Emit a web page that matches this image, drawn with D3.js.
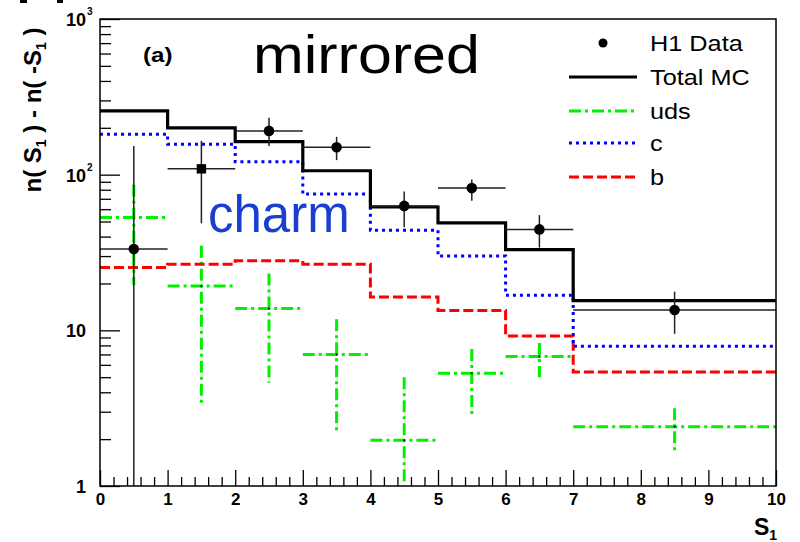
<!DOCTYPE html>
<html>
<head>
<meta charset="utf-8">
<script src="https://cdn.jsdelivr.net/npm/d3@7"></script>
<style>
  html, body { margin: 0; padding: 0; background: #fff; }
  svg { display: block; }
  text { font-family: "Liberation Sans", Arial, Helvetica, sans-serif; }
</style>
</head>
<body>
<svg id="chart" width="800" height="542"></svg>
<script>
// Bin edges of the S1 histogram
const binEdges = [0, 1, 2, 3, 4, 5, 6, 7, 10];

// Monte Carlo predictions per bin
const totalMC = [257, 200, 163, 106, 62, 49, 33, 15.5];
const charmMC = [182, 157, 121, 75, 44, 30, 16.8, 7.9];
const beautyMC = [25.3, 26.6, 28, 26.6, 16.4, 13.4, 9.2, 5.4];

// Light-quark (uds) estimate with its uncertainty band
const udsValue = [53, 19.3, 13.8, 7.0, 1.97, 5.3, 6.8, 2.4];
const udsHigh  = [86, 35, 23.2, 11.8, 5.0, 7.6, 8.3, 3.16];
const udsLow   = [19.5, 3.4, 4.6, 2.2, 0.5, 2.9, 5.0, 1.6];

// H1 data with statistical errors; the second bin is a mirrored value
const dataValue = [33.3, 109, 191, 150, 63, 82, 44.5, 13.5];
const dataHigh  = [153, 165, 232, 175, 78, 93, 55, 17.7];
const dataLow   = [0.5, 48.7, 153, 124, 46, 68, 34, 9.5];
const dataMarker = ["circle", "square", "circle", "circle", "circle", "circle", "circle", "circle"];

// Axis ticks
const xMajorTicks = [0, 1, 2, 3, 4, 5, 6, 7, 8, 9, 10];
const yMajorTicks = [1, 10, 100, 1000];
const yTickLabels = [{ base: "1", exp: "" }, { base: "10", exp: "" }, { base: "10", exp: "2" }, { base: "10", exp: "3" }];

// Legend entries
const legendLabels = ["H1 Data", "Total MC", "uds", "c", "b"];

const svg = d3.select("#chart");
const margin = { left: 100, right: 24, top: 19, bottom: 56 };
const W = 800, H = 542;

const x = d3.scaleLinear().domain([0, 10]).range([margin.left, W - margin.right]);
const y = d3.scaleLog().domain([1, 1000]).range([H - margin.bottom, margin.top]);

const xMinorTicks = d3.range(0, 10.0001, 0.2).filter(v => Math.abs(v - Math.round(v)) > 1e-6);
const yMinorTicks = [];
[1, 10, 100].forEach(dec => { for (let k = 2; k <= 9; k++) yMinorTicks.push(dec * k); });

svg.append("defs").append("clipPath").attr("id", "plotClip")
  .append("rect")
  .attr("x", x(0)).attr("y", y(1000))
  .attr("width", x(10) - x(0)).attr("height", y(1) - y(1000));

// Fragments of the panel above, cut by the page edge
svg.append("rect").attr("x", 20).attr("y", 0).attr("width", 7).attr("height", 3).attr("fill", "#000");
svg.append("rect").attr("x", 57).attr("y", 0).attr("width", 6).attr("height", 3).attr("fill", "#000");

// ---- axes ----
const xAxisMajor = d3.axisBottom(x).tickValues(xMajorTicks).tickSize(-16).tickPadding(7)
  .tickFormat(d3.format("d"));
const xAxisMinor = d3.axisBottom(x).tickValues(xMinorTicks).tickSize(-9).tickFormat("");
const yAxisMajor = d3.axisLeft(y).tickValues(yMajorTicks).tickSize(-20).tickFormat("");
const yAxisMinor = d3.axisLeft(y).tickValues(yMinorTicks).tickSize(-11).tickFormat("");

function styleAxis(g) {
  g.select(".domain").remove();
  g.selectAll(".tick line").attr("stroke", "#000").attr("stroke-width", 1.3);
}

const gx = svg.append("g").attr("transform", `translate(0,${y(1)})`).call(xAxisMajor).call(styleAxis);
gx.selectAll(".tick text").attr("font-size", 17).attr("font-weight", "bold").attr("fill", "#000")
  .attr("font-family", "Liberation Sans, Arial, sans-serif");
svg.append("g").attr("transform", `translate(0,${y(1)})`).call(xAxisMinor).call(styleAxis);

const gy = svg.append("g").attr("transform", `translate(${x(0)},0)`).call(yAxisMajor).call(styleAxis);
svg.append("g").attr("transform", `translate(${x(0)},0)`).call(yAxisMinor).call(styleAxis);

gy.selectAll(".tick").each(function (d, i) {
  const lab = yTickLabels[yMajorTicks.indexOf(d)];
  const g = d3.select(this);
  g.append("text").attr("x", -14).attr("dy", "0.36em").attr("text-anchor", "end")
    .attr("font-size", 18).attr("font-weight", "bold").attr("fill", "#000")
    .attr("font-family", "Liberation Sans, Arial, sans-serif")
    .text(lab.base);
  if (lab.exp) {
    g.append("text").attr("x", -13).attr("dy", "-0.45em").attr("text-anchor", "start")
      .attr("font-size", 10).attr("font-weight", "bold").attr("fill", "#000")
      .attr("font-family", "Liberation Sans, Arial, sans-serif")
      .text(lab.exp);
  }
});

// Axis titles
const xt = svg.append("text").attr("x", 754).attr("y", 535)
  .attr("font-size", 23).attr("font-weight", "bold").attr("fill", "#000");
xt.append("tspan").text("S");
xt.append("tspan").attr("font-size", 14).attr("dy", 5).text("1");

const yt = svg.append("text")
  .attr("transform", "translate(41,110) rotate(-90)")
  .attr("text-anchor", "middle")
  .attr("font-size", 24).attr("font-weight", "bold").attr("fill", "#000");
yt.append("tspan").text("n( S");
yt.append("tspan").attr("font-size", 14).attr("dy", 5).text("1");
yt.append("tspan").attr("dy", -5).text(" ) - n( -S");
yt.append("tspan").attr("font-size", 14).attr("dy", 5).text("1");
yt.append("tspan").attr("dy", -5).text(" )");

// ---- plot contents ----
const plot = svg.append("g").attr("clip-path", "url(#plotClip)");

const binCenter = i => (binEdges[i] + binEdges[i + 1]) / 2;
const clampY = v => y(Math.max(v, 1));

function histPoints(vals) {
  const pts = vals.map((v, i) => [binEdges[i], v]);
  pts.push([binEdges[binEdges.length - 1], vals[vals.length - 1]]);
  return pts;
}
const stepLine = d3.line().x(d => x(d[0])).y(d => clampY(d[1])).curve(d3.curveStepAfter);

const styles = {
  total: { stroke: "#000", dash: null },
  uds: { stroke: "#00f000", dash: "12,4,3,4" },
  c: { stroke: "#0000ff", dash: "3,4" },
  b: { stroke: "#ff0000", dash: "10,4" }
};

// uds estimate drawn as crosses with bin-width horizontal bars
udsValue.forEach((v, i) => {
  const g = plot.append("g");
  g.append("line")
    .attr("x1", x(binEdges[i])).attr("x2", x(binEdges[i + 1]))
    .attr("y1", clampY(v)).attr("y2", clampY(v));
  g.append("line")
    .attr("x1", x(binCenter(i))).attr("x2", x(binCenter(i)))
    .attr("y1", clampY(udsHigh[i])).attr("y2", clampY(udsLow[i]));
  g.selectAll("line").attr("stroke", styles.uds.stroke).attr("stroke-width", 3)
    .attr("stroke-dasharray", styles.uds.dash);
  g.append("circle").attr("cx", x(binCenter(i))).attr("cy", clampY(v)).attr("r", 1).attr("fill", "#000");
});

plot.append("path").datum(histPoints(beautyMC)).attr("d", stepLine)
  .attr("fill", "none").attr("stroke", styles.b.stroke).attr("stroke-width", 3)
  .attr("stroke-dasharray", styles.b.dash);
plot.append("path").datum(histPoints(charmMC)).attr("d", stepLine)
  .attr("fill", "none").attr("stroke", styles.c.stroke).attr("stroke-width", 3)
  .attr("stroke-dasharray", styles.c.dash);
plot.append("path").datum(histPoints(totalMC)).attr("d", stepLine)
  .attr("fill", "none").attr("stroke", styles.total.stroke).attr("stroke-width", 3.2);

// H1 data points with error bars
dataValue.forEach((v, i) => {
  const g = plot.append("g").attr("stroke", "#222").attr("stroke-width", 1.5);
  g.append("line")
    .attr("x1", x(binEdges[i])).attr("x2", x(binEdges[i + 1]))
    .attr("y1", clampY(v)).attr("y2", clampY(v));
  g.append("line")
    .attr("x1", x(binCenter(i))).attr("x2", x(binCenter(i)))
    .attr("y1", clampY(dataHigh[i])).attr("y2", clampY(dataLow[i]));
  if (dataMarker[i] === "square") {
    g.append("rect").attr("x", x(binCenter(i)) - 4.7).attr("y", clampY(v) - 4.7)
      .attr("width", 9.4).attr("height", 9.4).attr("fill", "#000").attr("stroke", "none");
  } else {
    g.append("circle").attr("cx", x(binCenter(i))).attr("cy", clampY(v)).attr("r", 5.3)
      .attr("fill", "#000").attr("stroke", "none");
  }
});

// Frame
svg.append("rect")
  .attr("x", x(0)).attr("y", y(1000))
  .attr("width", x(10) - x(0)).attr("height", y(1) - y(1000))
  .attr("fill", "none").attr("stroke", "#000").attr("stroke-width", 1.5);

// Panel label and annotations
svg.append("text").attr("transform", "translate(143,62) scale(1.15,1)")
  .attr("font-size", 21).attr("font-weight", "bold").attr("fill", "#000").text("(a)");
svg.append("text").attr("transform", "translate(253,73) scale(1.15,1)")
  .attr("font-size", 53).attr("fill", "#000").text("mirrored");
svg.append("text").attr("x", 208).attr("y", 232)
  .attr("font-size", 51).attr("fill", "#1a3fd0").text("charm");

// ---- legend ----
const legendY = [43, 77, 111, 143, 177];
const leg = svg.append("g");
const lx0 = 569, lx1 = 637;
leg.append("circle").attr("cx", 603).attr("cy", legendY[0]).attr("r", 4.5).attr("fill", "#000");
const legLines = [styles.total, styles.uds, styles.c, styles.b];
legLines.forEach((s, k) => {
  leg.append("line").attr("x1", lx0).attr("x2", lx1)
    .attr("y1", legendY[k + 1]).attr("y2", legendY[k + 1])
    .attr("stroke", s.stroke).attr("stroke-width", 3.2)
    .attr("stroke-dasharray", s.dash);
});
legendLabels.forEach((t, k) => {
  leg.append("text")
    .attr("transform", `translate(650,${legendY[k] + 8}) scale(1.15,1)`)
    .attr("font-size", 22).attr("fill", "#000").text(t);
});
</script>
</body>
</html>
